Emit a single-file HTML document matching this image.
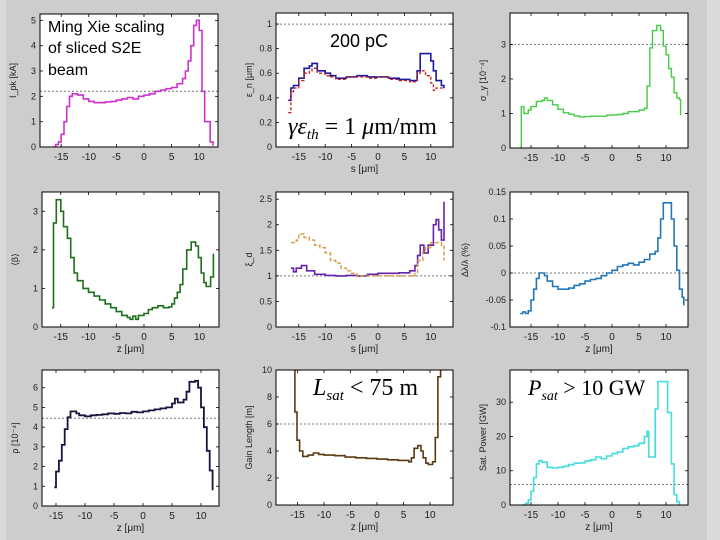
<!DOCTYPE html>
<html><head><meta charset="utf-8">
<style>
html,body{margin:0;padding:0;}
body{width:720px;height:540px;background:#cdcdcd;overflow:hidden;font-family:"Liberation Sans",sans-serif;}
svg{display:block;}
</style></head>
<body>
<svg id="chart" width="720" height="540" viewBox="0 0 720 540" xmlns="http://www.w3.org/2000/svg">
<rect x="0" y="0" width="720" height="540" fill="#cdcdcd"/>
<rect x="0" y="0" width="6" height="540" fill="#dadada"/>
<rect x="707" y="0" width="13" height="540" fill="#dadada"/>
<g id="plots"></g>
<g style="font-family:'Liberation Sans',sans-serif">
<text x="48" y="32" font-size="16" fill="#000">Ming Xie scaling</text>
<text x="48" y="53" font-size="16" fill="#000">of sliced S2E</text>
<text x="48" y="75" font-size="16" fill="#000">beam</text>
<text x="330" y="47" font-size="18" fill="#000">200 pC</text>
<text x="288" y="134" font-size="24" fill="#000" font-family="Liberation Serif,serif"><tspan font-style="italic">γε</tspan><tspan font-style="italic" font-size="15" dy="5">th</tspan><tspan dy="-5"> = 1 </tspan><tspan font-style="italic">μ</tspan>m/mm</text>
<text x="313" y="395" font-size="24" fill="#000" font-family="Liberation Serif,serif"><tspan font-style="italic">L</tspan><tspan font-style="italic" font-size="15" dy="5">sat</tspan><tspan dy="-5"> &lt; 75 m</tspan></text>
<text x="528" y="395" font-size="22" fill="#000" font-family="Liberation Serif,serif"><tspan font-style="italic">P</tspan><tspan font-style="italic" font-size="14" dy="5">sat</tspan><tspan dy="-5"> &gt; 10 GW</tspan></text>
</g>
</svg>
<script>
// ---- data (z in µm) ----
const p1Z = [-16.5,-16,-15.5,-15,-14.5,-14,-13.5,-13,-12,-11,-10,-9,-8,-7,-6,-5,-4,-3,-2,-1,0,1,2,3,4,5,6,7,7.5,8,8.5,9,9.5,10,10.5,11,12,12.5];
const p1Current = [0,0.1,0.2,0.5,1,1.6,2.0,2.1,2.05,1.9,1.8,1.75,1.75,1.78,1.8,1.85,1.9,1.95,1.9,2.0,2.05,2.1,2.2,2.25,2.3,2.35,2.5,2.7,3.0,3.4,4.0,4.8,5.0,4.6,2.2,1.0,0.2,0.05];
const p2Z = [-17,-16.5,-16,-15,-14,-13,-12.5,-11.5,-10,-9,-8,-6,-4,-2,0,2,4,6,7,7.4,8,9,10,10.5,11,12,12.5];
const p2EmitX = [0.38,0.48,0.5,0.56,0.64,0.66,0.68,0.62,0.6,0.58,0.56,0.57,0.58,0.57,0.57,0.56,0.55,0.54,0.54,0.62,0.76,0.76,0.7,0.62,0.54,0.5,0.48];
const p2EmitY = [0.28,0.45,0.48,0.54,0.6,0.62,0.64,0.6,0.58,0.57,0.55,0.57,0.57,0.56,0.57,0.55,0.54,0.53,0.53,0.6,0.62,0.58,0.52,0.46,0.48,0.48,0.47];
const p3Z = [-17,-16.8,-16.3,-15.5,-15,-14,-13,-12.5,-12,-11,-10,-9,-8,-7,-6,-5,-4,-2,-1,0,1,2,3,4,5,6,6.5,7,7.5,8.3,9,9.5,10,10.5,11,11.5,12,12.5,12.7];
const p3Spread = [0,1.2,1.0,1.1,1.2,1.35,1.38,1.45,1.38,1.25,1.12,1.02,0.98,0.93,0.9,0.91,0.92,0.92,0.95,0.96,0.97,1.0,1.05,1.05,1.1,1.15,1.8,2.9,3.4,3.55,3.4,2.95,2.7,2.3,2.05,1.6,1.45,1.4,0.95];
const p4Z = [-16.6,-16.3,-15.8,-15,-14.5,-13.8,-13.2,-12.6,-12,-11,-10,-9,-8,-7,-6,-5,-4,-3,-2.5,-2,-1.5,-1,0,0.8,1.5,2.5,3.5,4.5,5,5.5,6,6.5,7,7.7,8.5,9.3,9.8,10.3,10.8,11.2,12,12.5];
const p4Beta = [0.5,2.7,3.3,3.0,2.6,2.3,1.8,1.4,1.2,1.0,0.9,0.8,0.7,0.6,0.5,0.4,0.3,0.25,0.2,0.28,0.2,0.3,0.35,0.45,0.5,0.55,0.5,0.52,0.6,0.75,0.9,1.1,1.5,2.0,2.2,2.1,1.8,1.4,1.15,1.05,1.3,1.9];
const p5Z = [-16.5,-16,-15.5,-14.5,-13.5,-12,-10,-8,-6,-4,-2,0,2,4,6,7,7.5,8,8.7,9.5,10.5,11,11.5,12,12.5];
const p5Xi = [1.15,1.08,1.15,1.2,1.1,1.03,1.01,1.0,1.01,1.0,1.03,1.05,1.05,1.06,1.1,1.2,1.4,1.6,1.45,1.6,2.0,2.1,1.9,1.7,2.45];
const p5ZB = [-16.5,-15.5,-15,-14,-13,-12,-11,-10,-9,-8,-7,-6,-5,-4,-2,0,2,4,6,7,7.5,8.5,9,10,11,12,12.5];
const p5Bandwidth = [1.65,1.7,1.82,1.75,1.7,1.6,1.55,1.45,1.3,1.25,1.15,1.1,1.05,1.0,1.0,1.0,1.0,1.0,1.0,1.05,1.3,1.5,1.55,1.65,1.65,1.6,1.3];
const p6Z = [-17,-16.5,-16,-15.5,-15,-14.5,-14,-13.5,-13,-12.5,-12,-11,-10,-9,-8,-7,-6,-5,-4,-3,-2,-1,0,1,2,3,4,5,6,7,8,8.5,9,9.5,10.5,11,11.5,12,12.5,13,13.3];
const p6Detune = [-0.075,-0.072,-0.075,-0.07,-0.05,-0.03,-0.01,0,0.0,-0.005,-0.015,-0.025,-0.03,-0.03,-0.028,-0.023,-0.02,-0.015,-0.012,-0.01,-0.005,0.0,0.005,0.012,0.015,0.018,0.015,0.02,0.025,0.035,0.04,0.065,0.1,0.13,0.13,0.1,0.05,0.005,-0.03,-0.045,-0.06];
const p7Z = [-15.3,-15,-14.5,-14,-13.5,-13,-12.5,-11.5,-11,-10,-9,-8,-7,-6,-5,-4,-3,-2,-1,0,1,2,3,4,5,5.5,6,7,7.5,8,9,9.5,10,10.5,11,11.5,12];
const p7Rho = [0.95,1.75,2.3,3.1,3.9,4.5,4.8,4.7,4.6,4.55,4.6,4.62,4.65,4.7,4.68,4.72,4.7,4.78,4.75,4.8,4.85,4.9,4.95,5.0,5.2,5.45,5.25,5.4,5.8,6.3,6.35,6.0,5.0,4.0,2.8,1.8,0.8];
const p8Z = [-15.6,-15.5,-15.1,-14.6,-14,-13,-12,-11,-10,-8,-6,-4,-2,0,2,4,6,6.5,7,7.7,8.3,8.7,9.2,9.7,10.5,11,11.5,12];
const p8Gain = [12,6.9,4.8,4.0,3.6,3.7,3.85,3.75,3.7,3.65,3.55,3.5,3.45,3.4,3.35,3.3,3.2,3.5,4.2,4.4,4.0,3.5,3.1,3.0,3.2,5.0,9.5,12];
const p9Z = [-16.5,-16,-15.5,-15,-14.5,-14,-13.5,-13,-12,-11,-10,-9,-8,-7,-6,-5,-4,-3,-2,-1,0,1,2,3,4,5,6,6.5,6.8,8,8.5,9.5,10.3,11,11.5,12,12.5];
const p9Power = [0,0.5,1.5,4,8,12,13,12.5,11,10.8,11,11.3,11.8,12.2,12.3,12.8,13.2,14,13.5,14.3,15,15.5,16.5,17,17.3,18,20,21.5,14,28,36,36,27,12,3,1,0];
const xTickValues = [-15,-10,-5,0,5,10];
const xTickLabels = ["-15","-10","-5","0","5","10"];

// ---- panel geometry ----
const panels = [
 {name:'current-panel', x0:40,x1:218,y0:14,y1:147, zz:144, zs:5.52, ymin:0,ymax:5.25, yticks:[0,1,2,3,4,5], ref:2.2,
  series:[{z:p1Z,v:p1Current,c:'#cc33cc',w:1.6,name:'current-line'}], ylabel:'I_pk [kA]', xlabel:''},
 {name:'emittance-panel', x0:276,x1:453,y0:13,y1:147, zz:378, zs:5.28, ymin:0,ymax:1.09, yticks:[0,0.2,0.4,0.6,0.8,1], ref:1.0,
  series:[{z:p2EmitX,v:null},{}], ylabel:'ε_n [μm]', xlabel:'s [μm]'},
 {name:'energy-spread-panel', x0:510,x1:688,y0:13,y1:148, zz:612, zs:5.4, ymin:0,ymax:3.91, yticks:[0,1,2,3], ref:3.0,
  series:[{z:p3Z,v:p3Spread,c:'#44cc44',w:1.4,name:'energy-spread-line'}], ylabel:'σ_γ [10⁻⁴]', xlabel:''},
 {name:'beta-panel', x0:42,x1:219,y0:192,y1:327, zz:144, zs:5.55, ymin:0,ymax:3.5, yticks:[0,1,2,3], ref:null,
  series:[{z:p4Z,v:p4Beta,c:'#1e6e1e',w:1.6,name:'beta-line'}], ylabel:'⟨β⟩', xlabel:'z [μm]'},
 {name:'xi-panel', x0:276,x1:453,y0:192,y1:327, zz:378, zs:5.28, ymin:0,ymax:2.64, yticks:[0,0.5,1,1.5,2,2.5], ref:1.0,
  series:[{z:p5Z,v:p5Xi,c:'#6622aa',w:1.6,name:'xi-line'},{z:p5ZB,v:p5Bandwidth,c:'#d89a40',w:1.4,dash:'4,2',name:'bandwidth-line'}], ylabel:'ξ_d', xlabel:'s [μm]'},
 {name:'detuning-panel', x0:510,x1:688,y0:192,y1:327, zz:612, zs:5.4, ymin:-0.1,ymax:0.15, yticks:[-0.1,-0.05,0,0.05,0.1,0.15], ref:0,
  series:[{z:p6Z,v:p6Detune,c:'#2277bb',w:1.6,name:'detuning-line'}], ylabel:'', xlabel:'z [μm]'},
 {name:'rho-panel', x0:42,x1:219,y0:370,y1:506, zz:143, zs:5.8, ymin:0,ymax:6.9, yticks:[0,1,2,3,4,5,6], ref:4.45,
  series:[{z:p7Z,v:p7Rho,c:'#151540',w:1.8,name:'rho-line'}], ylabel:'ρ [10⁻⁴]', xlabel:'z [μm]'},
 {name:'gain-length-panel', x0:276,x1:453,y0:370,y1:505, zz:377, zs:5.3, ymin:0,ymax:10, yticks:[0,2,4,6,8,10], ref:6,
  series:[{z:p8Z,v:p8Gain,c:'#5a3a10',w:1.6,name:'gain-length-line'}], ylabel:'Gain Length [m]', xlabel:'z [μm]'},
 {name:'power-panel', x0:510,x1:688,y0:370,y1:505, zz:612, zs:5.4, ymin:0,ymax:39.4, yticks:[0,10,20,30], ref:6,
  series:[{z:p9Z,v:p9Power,c:'#44dddd',w:1.6,name:'power-line'}], ylabel:'Sat. Power [GW]', xlabel:'z [μm]'}
];
panels[1].series = [{z:p2Z,v:p2EmitX,c:'#1a1aa0',w:1.6,name:'emittance-x-line'},{z:p2Z,v:p2EmitY,c:'#c02020',w:1.3,dash:'3,2',name:'emittance-y-line'}];

const NS='http://www.w3.org/2000/svg';
const root=document.getElementById('plots');
function mk(tag,attrs,parent){const e=document.createElementNS(NS,tag);for(const k in attrs)e.setAttribute(k,attrs[k]);parent.appendChild(e);return e;}

panels.forEach(p=>{
  const g=mk('g',{},root);
  
  
  const sx=z=>p.zz+z*p.zs;
  const sy=v=>p.y1-(v-p.ymin)/(p.ymax-p.ymin)*(p.y1-p.y0);
  const clip='clip-'+p.name;
  const cp=mk('clipPath',{id:clip},g);
  mk('rect',{x:p.x0,y:p.y0,width:p.x1-p.x0,height:p.y1-p.y0},cp);
  const bg=mk('rect',{x:p.x0,y:p.y0,width:p.x1-p.x0,height:p.y1-p.y0,fill:'#fff'},g);
  
  
  if(p.ref!==null){
    const r=mk('line',{x1:p.x0,x2:p.x1,y1:sy(p.ref),y2:sy(p.ref),stroke:'#777','stroke-width':1,'stroke-dasharray':'2,2'},g);
    
    
  }
  p.series.forEach(s=>{
    let d='M'+sx(s.z[0]).toFixed(1)+','+sy(s.v[0]).toFixed(1);
    for(let i=1;i<s.z.length;i++){d+=' H'+sx(s.z[i]).toFixed(1)+' V'+sy(s.v[i]).toFixed(1);}
    const path=mk('path',{d:d,fill:'none',stroke:s.c,'stroke-width':s.w,'clip-path':'url(#'+clip+')'},g);
    if(s.dash)path.setAttribute('stroke-dasharray',s.dash);
    
    
  });
  const frame=mk('rect',{x:p.x0,y:p.y0,width:p.x1-p.x0,height:p.y1-p.y0,fill:'none',stroke:'#000','stroke-width':1},g);
  
  
  xTickValues.forEach((t,i)=>{
    const x=sx(t);
    mk('line',{x1:x,x2:x,y1:p.y1,y2:p.y1-3,stroke:'#000','stroke-width':0.8},g);
    mk('line',{x1:x,x2:x,y1:p.y0,y2:p.y0+3,stroke:'#000','stroke-width':0.8},g);
    const tl=mk('text',{x:x,y:p.y1+13,'font-size':10,'text-anchor':'middle',fill:'#222'},g);
    tl.textContent=xTickLabels[i];
    
    
  });
  p.yticks.forEach(t=>{
    const y=sy(t);
    mk('line',{x1:p.x0,x2:p.x0+3,y1:y,y2:y,stroke:'#000','stroke-width':0.8},g);
    mk('line',{x1:p.x1,x2:p.x1-3,y1:y,y2:y,stroke:'#000','stroke-width':0.8},g);
    const yl=mk('text',{x:p.x0-4,y:y+3,'font-size':9,'text-anchor':'end',fill:'#222'},g);
    yl.textContent=String(t);
    
    
  });
  if(p.ylabel){
    const cy=(p.y0+p.y1)/2, cx=p.x0-24;
    const yt=mk('text',{x:cx,y:cy,'font-size':9,'text-anchor':'middle',fill:'#222',transform:'rotate(-90 '+cx+' '+cy+')'},g);
    yt.textContent=p.ylabel;
    
    
  }
  if(p.xlabel){
    const xt=mk('text',{x:(p.x0+p.x1)/2,y:p.y1+25,'font-size':10,'text-anchor':'middle',fill:'#222'},g);
    xt.textContent=p.xlabel;
    
    
  }
});
// right-axis label on xi panel
const rl=mk('text',{x:468,y:260,'font-size':9,'text-anchor':'middle',fill:'#222',transform:'rotate(-90 468 260)'},root);
rl.textContent='Δλ/λ (%)';


</script>
</body></html>
